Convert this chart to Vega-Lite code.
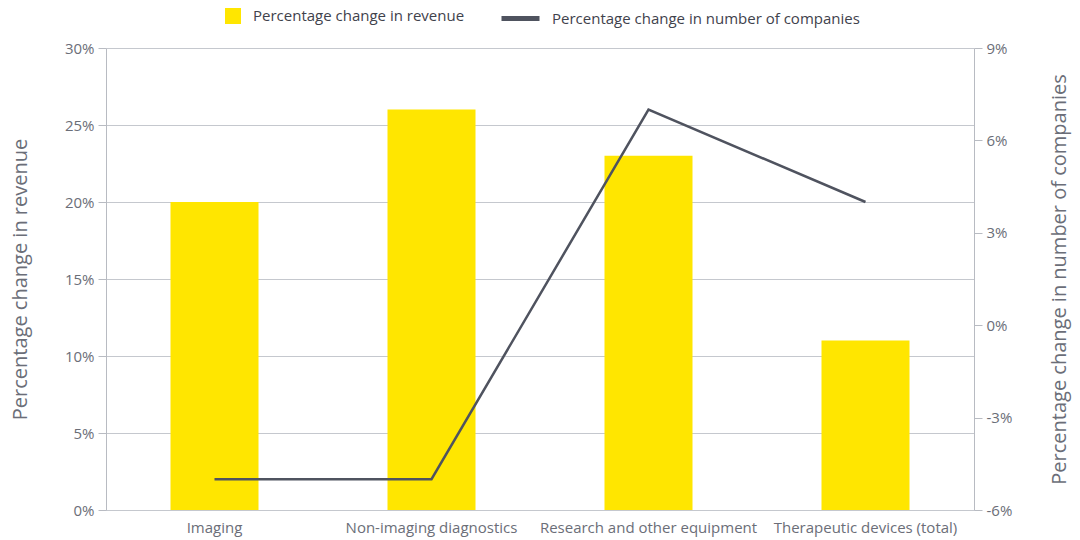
{
  "$schema": "https://vega.github.io/schema/vega-lite/v6.json",
  "width": 868,
  "height": 462,
  "autosize": {"type": "none"},
  "padding": {"left": 106, "top": 48, "right": 106, "bottom": 30},
  "background": "white",
  "data": {"values": [
    {"category": "Imaging", "revenue": 20, "companies": -5},
    {"category": "Non-imaging diagnostics", "revenue": 26, "companies": -5},
    {"category": "Research and other equipment", "revenue": 23, "companies": 7},
    {"category": "Therapeutic devices (total)", "revenue": 11, "companies": 4}
  ]},
  "config": {
    "font": "Open Sans",
    "view": {"stroke": null},
    "axis": {
      "labelColor": "#6b6e78",
      "titleColor": "#6b6e78",
      "labelFontSize": 15,
      "titleFontSize": 20,
      "titleFontWeight": "normal",
      "domainColor": "#b8bbc2",
      "tickColor": "#b8bbc2",
      "gridColor": "#c5c8ce",
      "tickSize": 8,
      "labelLimit": 400
    },
    "legend": {
      "labelColor": "#3f424c",
      "labelFontSize": 15,
      "labelLimit": 500
    }
  },
  "encoding": {
    "x": {
      "field": "category", "type": "nominal", "sort": null,
      "scale": {"paddingInner": 0, "paddingOuter": 0},
      "axis": {"title": null, "labelAngle": 0, "ticks": false, "labelPadding": 10, "domainColor": "#c5c8ce"}
    }
  },
  "layer": [
    {
      "mark": {"type": "bar", "width": 88},
      "encoding": {
        "y": {
          "field": "revenue", "type": "quantitative",
          "scale": {"domain": [0, 30]},
          "axis": {
            "title": "Percentage change in revenue",
            "values": [0, 5, 10, 15, 20, 25, 30],
            "labelExpr": "datum.value + '%'",
            "titlePadding": 34,
            "labelPadding": 4
          }
        },
        "fill": {
          "datum": "Percentage change in revenue", "type": "nominal",
          "scale": {"range": ["#ffe600"]},
          "legend": {"title": null, "orient": "none", "legendX": 119, "legendY": -40, "symbolType": "square", "symbolSize": 256, "symbolStrokeWidth": 0, "labelOffset": 12}
        }
      }
    },
    {
      "mark": {"type": "line", "strokeWidth": 2.5},
      "encoding": {
        "y": {
          "field": "companies", "type": "quantitative",
          "scale": {"domain": [-6, 9]},
          "axis": {
            "orient": "right",
            "title": "Percentage change in number of companies",
            "titleAngle": 270,
            "values": [-6, -3, 0, 3, 6, 9],
            "labelExpr": "datum.value + '%'",
            "grid": false,
            "titlePadding": 58,
            "labelPadding": 4
          }
        },
        "stroke": {
          "datum": "Percentage change in number of companies", "type": "nominal",
          "scale": {"range": ["#4f535f"]},
          "legend": {"title": null, "orient": "none", "legendX": 393, "legendY": -51, "symbolType": "stroke", "symbolSize": 1444, "symbolStrokeWidth": 5, "labelOffset": 10}
        }
      }
    }
  ],
  "resolve": {"scale": {"y": "independent", "fill": "independent", "stroke": "independent"}}
}
